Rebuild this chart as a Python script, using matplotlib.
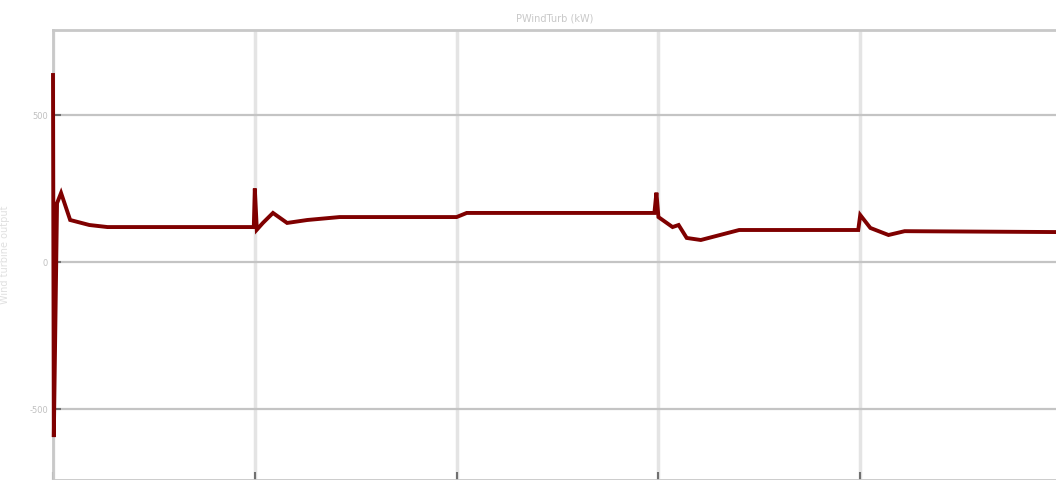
import numpy as np
import matplotlib.pyplot as plt

# wind turbine power trace (kW)
t = [0.0, 0.004, 0.02, 0.04, 0.085, 0.18, 0.27, 0.995,
     1.0, 1.01, 1.04, 1.09, 1.16, 1.26, 1.42, 2.0, 2.05, 2.98,
     2.99, 3.0, 3.07, 3.1, 3.14, 3.21, 3.4, 3.99,
     4.0, 4.05, 4.14, 4.22, 4.97]
p_kw = [636, -595, 200, 235, 143, 126, 119, 119,
        250, 110, 133, 167, 133, 143, 153, 153, 167, 167,
        236, 153, 119, 126, 82, 75, 109, 109,
        160, 116, 92, 105, 102]
yticks = [-500, 0, 500]
xticks = [0, 1, 2, 3, 4]

fig = plt.figure(figsize=(10.56, 4.8), dpi=100)
ax = fig.add_axes([53 / 1056, 0.0, 1 - 53 / 1056, 450 / 480])

ax.plot(t, p_kw, color='#7f0000', lw=2.8, solid_joinstyle='miter',
        zorder=3, clip_on=False)

ax.set_xlim(0, 4.97)
ax.set_ylim(-741, 789)
ax.set_xticks(xticks)
ax.set_yticks(yticks)
ax.set_xticklabels([])
ax.set_yticklabels([str(v) for v in yticks], color='#c0c0c0', fontsize=6)

ax.grid(axis='y', color='#c4c4c4', lw=1.6)
ax.grid(axis='x', color='#e4e4e4', lw=2.5)
ax.set_axisbelow(True)
ax.tick_params(direction='in', length=6, width=1.5, color='#707070')

for s in ax.spines.values():
    s.set_color('#c8c8c8')
    s.set_linewidth(2)
ax.spines['right'].set_visible(False)

ax.set_ylabel('Wind turbine output', color='#e0e0e0', fontsize=7, labelpad=14)
ax.set_title('PWindTurb (kW)', color='#c8c8c8', fontsize=7, pad=6)

fig.savefig('out.png', dpi=100)
